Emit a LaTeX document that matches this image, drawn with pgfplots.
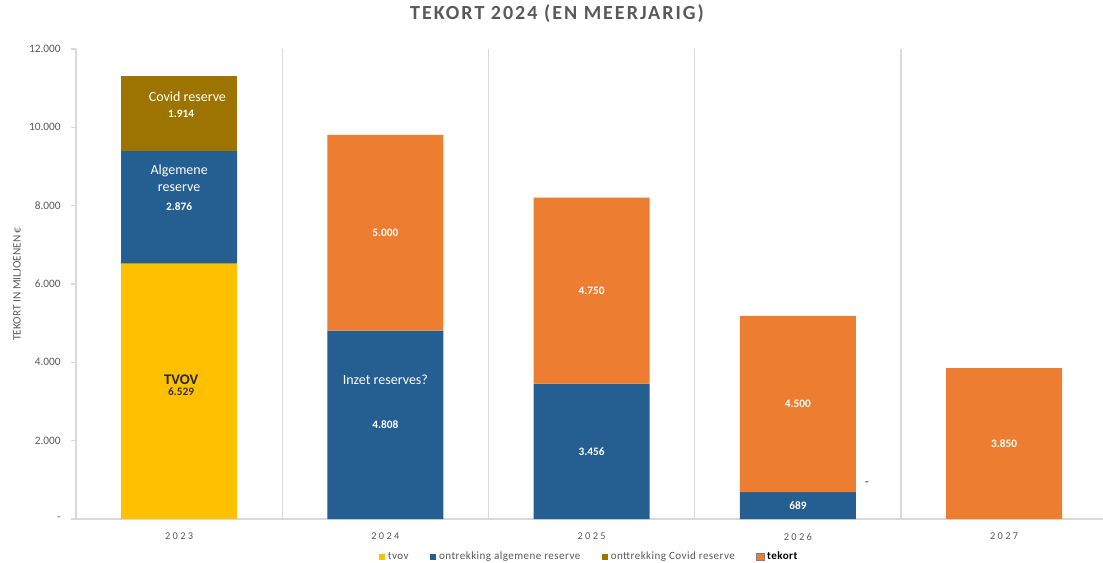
\documentclass[border=0pt]{standalone}
\usepackage{pgfplots}
\pgfplotsset{compat=1.18}
\usepackage{fontspec}
\setmainfont{Carlito}
\newfontfamily\titlefont{Carlito}[LetterSpace=10]
\newfontfamily\yearfont{Carlito}[LetterSpace=22]
\newfontfamily\legfont{Carlito}[LetterSpace=4]
\definecolor{ctvov}{HTML}{FFC000}
\definecolor{calg}{HTML}{255E91}
\definecolor{ccov}{HTML}{9E7400}
\definecolor{ctek}{HTML}{ED7D31}
\definecolor{txtgray}{HTML}{595959}
\definecolor{linegray}{HTML}{D9D9D9}
\pgfplotsset{
  sqleg/.style={legend image code/.code={\path[##1] (0pt,-2.4pt) rectangle (4.8pt,2.4pt);}},
  tekleg/.style={legend image code/.code={\path[fill=ctek, draw=gray, line width=0.6pt] (0pt,-2.8pt) rectangle (5.6pt,2.8pt);}},
}
\tikzset{
  vlab/.style={font=\bfseries\fontsize{8.5}{10}\selectfont, text=white, inner sep=0pt},
  tlab/.style={font=\fontsize{10.5}{12.5}\selectfont, text=white, inner sep=0pt, align=center},
}
\begin{document}
\begin{tikzpicture}
\begin{axis}[
  width=770.25pt, height=352.5pt, scale only axis,
  xmin=-0.5, xmax=4.4794, ymin=0, ymax=12000,
  ybar stacked, bar width=87pt,
  reverse stacked plots=false,
  axis x line*=bottom, axis y line*=left,
  axis line style={-, draw=linegray, line width=1pt},
  xtick={0,1,2,3,4},
  xticklabels={2023,2024,2025,2026,2027},
  x tick label style={font=\yearfont\fontsize{7.8}{9}\selectfont, text=txtgray, yshift=-3pt},
  xtick style={draw=none},
  minor xtick={0.5,1.5,2.5,3.5},
  xminorgrids=true,
  minor x grid style={draw=linegray, line width=1.1pt},
  minor tick length=0pt,
  ytick={0,2000,4000,6000,8000,10000,12000},
  yticklabels={-,2.000,4.000,6.000,8.000,10.000,12.000},
  scaled y ticks=false,
  y tick label style={font=\fontsize{8.5}{10}\selectfont, text=txtgray, xshift=-4pt},
  ytick style={draw=linegray, line width=0.8pt},
  tick align=outside, major tick length=4pt,
  /pgf/number format/assume math mode=true,
  title={TEKORT 2024 (EN MEERJARIG)},
  title style={at={(0.4684,1.0574)}, anchor=center, font=\titlefont\bfseries\fontsize{15}{17}\selectfont, text=txtgray},
  ylabel={TEKORT IN MILJOENEN €},
  every axis y label/.style={at={(axis description cs:-0.0574,0.5)}, rotate=90, anchor=center, font=\fontsize{8.5}{9}\selectfont, text=txtgray},
  legend columns=4,
  legend cell align=left,
  legend style={at={(0.5,-0.081)}, anchor=center, draw=none,
    font=\legfont\fontsize{8.3}{9}\selectfont, text=txtgray,
    /tikz/every even column/.append style={column sep=14pt},
    inner sep=0pt},
  sqleg,
  clip=false,
]
\addplot[fill=ctvov, draw=none] coordinates {(0,6529) (1,0) (2,0) (3,0) (4,0)};
\addlegendentry{tvov}
\addplot[fill=calg, draw=none] coordinates {(0,2876) (1,4808) (2,3456) (3,689) (4,0)};
\addlegendentry{ontrekking algemene reserve}
\addplot[fill=ccov, draw=none] coordinates {(0,1914) (1,0) (2,0) (3,0) (4,0)};
\addlegendentry{onttrekking Covid reserve}
\addplot[fill=ctek, draw=none, tekleg] coordinates {(0,0) (1,5000) (2,4750) (3,4500) (4,3850)};
\addlegendentry{\textcolor{black}{\bfseries tekort}}

\node[vlab] at (axis cs:0.01,10340) {1.914};
\node[vlab] at (axis cs:0,7966) {2.876};
\node[vlab, text=black!80] at (axis cs:0.01,3243) {6.529};
\node[vlab] at (axis cs:1,2404) {4.808};
\node[vlab] at (axis cs:1,7308) {5.000};
\node[vlab] at (axis cs:2,1728) {3.456};
\node[vlab] at (axis cs:2,5831) {4.750};
\node[vlab] at (axis cs:3,344) {689};
\node[vlab] at (axis cs:3,2939) {4.500};
\node[vlab] at (axis cs:4,1925) {3.850};
\node[vlab, text=txtgray] at (axis cs:3.335,894) {-};
\node[tlab] at (axis cs:0.04,10775) {Covid reserve};
\node[tlab] at (axis cs:0,8700) {Algemene\\reserve};
\node[tlab, text=black!85, font=\bfseries\fontsize{11}{12.5}\selectfont] at (axis cs:0.01,3549) {TVOV};
\node[tlab] at (axis cs:1,3549) {Inzet reserves?};
\end{axis}
\pgfresetboundingbox
\path ([xshift=-57pt,yshift=-32.25pt]current axis.south west) rectangle ([yshift=36.75pt]current axis.north east);
\end{tikzpicture}
\end{document}
